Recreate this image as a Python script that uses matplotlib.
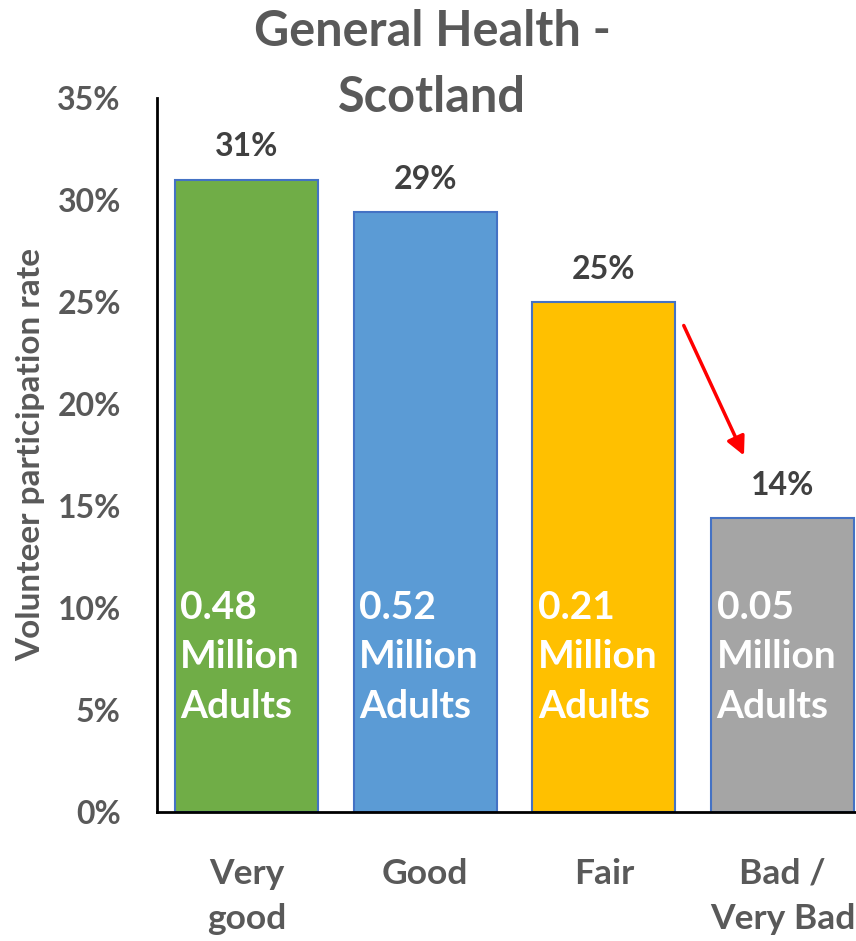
import matplotlib.pyplot as plt

categories = ['Very\ngood', 'Good', 'Fair', 'Bad /\nVery Bad']
rates = [31.0, 29.4, 25.0, 14.4]
adults = ['0.48', '0.52', '0.21', '0.05']
colors = ['#70AD47', '#5B9BD5', '#FFC000', '#A5A5A5']

plt.rcParams['font.family'] = ['Lato', 'DejaVu Sans']
plt.rcParams['font.weight'] = 'bold'

fig = plt.figure(figsize=(8.56, 9.41), dpi=100)
ax = fig.add_axes([0.1834, 0.1371, 0.8166, 0.7588])

x = list(range(len(categories)))
ax.bar(x, rates, width=0.8, color=colors, edgecolor='#4472C4', linewidth=1.5)

# percentage above each bar, population inside
for i, r in enumerate(rates):
    ax.text(i, r + 1.6, f'{r:.0f}%', ha='center', va='center',
            fontsize=23, fontweight='bold', color='#404040')
    ax.text(i - 0.37, 7.6, f'{adults[i]}\nMillion\nAdults', ha='left', va='center',
            fontsize=28, fontweight='bold', color='white', linespacing=1.5)

# drop from Fair to Bad
ax.annotate('', xy=(2.79, 17.35), xytext=(2.44, 23.97),
            arrowprops=dict(arrowstyle='-|>', color='red', lw=2.5, mutation_scale=28))

ax.set_xlim(-0.5, 3.41)
ax.set_ylim(0, 35)
ax.set_yticks(range(0, 36, 5))
ax.set_yticklabels([f'{v}%' for v in range(0, 36, 5)])
ax.set_xticks(x)
ax.set_xticklabels(categories)
ax.tick_params(axis='y', length=0, pad=26, labelsize=23, labelcolor='#595959')
ax.tick_params(axis='x', length=0, pad=33, labelsize=25.5, labelcolor='#595959')
for lbl in ax.get_xticklabels():
    lbl.set_fontweight('bold')
    lbl.set_linespacing(1.5)
for lbl in ax.get_yticklabels():
    lbl.set_fontweight('bold')

ax.set_ylabel('Volunteer participation rate', fontsize=24, fontweight='bold', color='#595959')
ax.yaxis.set_label_coords(-0.16, 0.5)

ax.spines['top'].set_visible(False)
ax.spines['right'].set_visible(False)
ax.spines['left'].set_linewidth(2)
ax.spines['bottom'].set_linewidth(2)

fig.text(0.505, 0.99, 'General Health -\nScotland', ha='center', va='top',
         fontsize=35, fontweight='bold', color='#595959', linespacing=1.55)

fig.savefig('out.png', dpi=100)
